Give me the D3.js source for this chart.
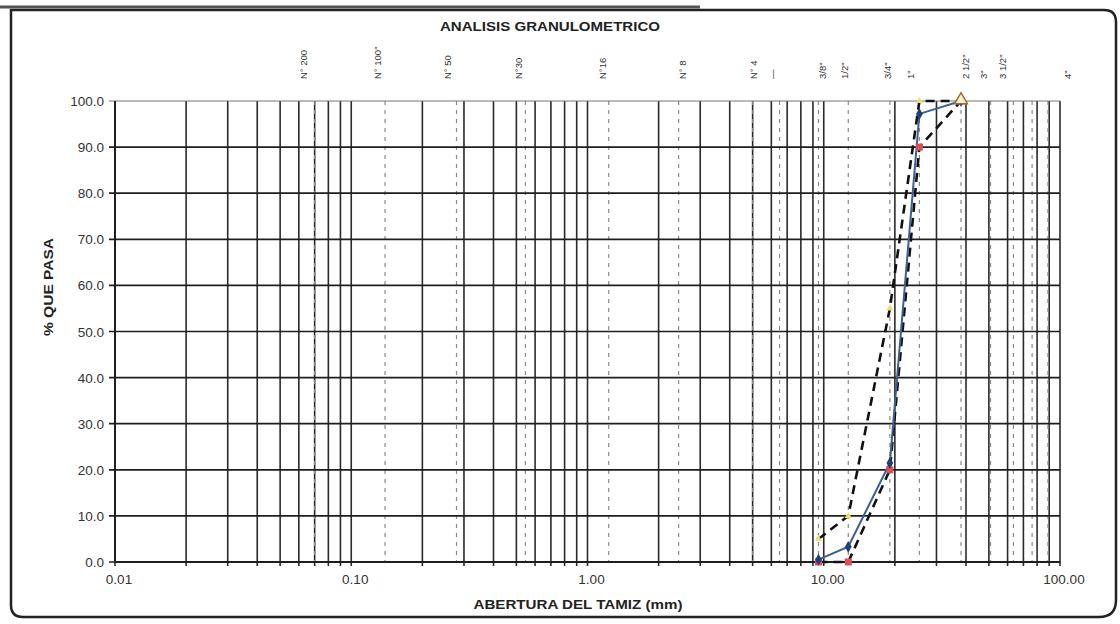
<!DOCTYPE html>
<html>
<head>
<meta charset="utf-8">
<script src="https://cdn.jsdelivr.net/npm/d3@7"></script>
<style>
  html, body { margin: 0; padding: 0; background: #fff; }
  svg { display: block; font-family: "Liberation Sans", Arial, sans-serif; }
</style>
</head>
<body>
<svg id="chart" width="1120" height="624"></svg>
<script>
// Sieve openings (mm) for the gradation curves
const sieveOpenings = [9.5, 12.7, 19.05, 25.4, 38.1];
// % passing: sample, upper limit, lower limit
const sample = [0.5, 3.3, 21.5, 97.2, 100];
const upperLimit = [5, 10, 55, 100, 100];
const lowerLimit = [0, 0, 20, 90, 100];

// Sieve reference lines (mm) drawn dashed
const sieveLines = [0.07, 0.139, 0.279, 0.546, 1.23, 2.43, 5.0, 6.5, 9.5, 12.7, 19.05, 25.4, 38.1, 50.8, 63.5, 76.2, 88.9];
// Sieve names along the top and where they sit (mm)
const sieveNames = ["N° 200", "N° 100\"", "N° 50", "N°30", "N°16", "N° 8", "N° 4", "—", "3/8\"", "1/2\"", "3/4\"", "1\"", "2 1/2\"", "3\"", "3 1/2\"", "4\""];
const sieveNamePos = [0.0626, 0.129, 0.255, 0.51, 1.16, 2.52, 5.05, 6.08, 9.9, 12.2, 18.7, 23.4, 40, 47.6, 57.3, 108];

// Axis ticks
const xTicks = [0.01, 0.1, 1, 10, 100];
const xTickLabels = ["0.01", "0.10", "1.00", "10.00", "100.00"];
const yTicks = [0, 10, 20, 30, 40, 50, 60, 70, 80, 90, 100];

const svg = d3.select("#chart");

const x = d3.scaleLog().domain([0.01, 100]).range([115, 1060]);
const y = d3.scaleLinear().domain([0, 100]).range([562, 101]);

// Frame
svg.append("path")
  .attr("d", "M11,10 L1104,10 Q1116,10 1116,22 L1116,600 Q1116,617 1099,617 L23,617 Q11,617 11,605 Z")
  .attr("fill", "none").attr("stroke", "#222").attr("stroke-width", 2.5);
svg.append("line").attr("x1", 0).attr("x2", 700).attr("y1", 7).attr("y2", 7)
  .attr("stroke", "#555").attr("stroke-width", 3);

const g = svg.append("g");

// Log minor gridlines (solid)
const minor = [];
for (let d = 0.01; d < 99; d *= 10) {
  for (let k = 1; k <= 9; k++) minor.push(+(d * k).toPrecision(3));
}
minor.push(100);
g.selectAll("line.minor").data(minor).join("line")
  .attr("class", "minor")
  .attr("x1", d => x(d)).attr("x2", d => x(d))
  .attr("y1", y(100)).attr("y2", y(0) + 4)
  .attr("stroke", "#2a2a2a").attr("stroke-width", 1.6);

// Sieve lines (dashed)
g.selectAll("line.sieve").data(sieveLines).join("line")
  .attr("class", "sieve")
  .attr("x1", d => x(d)).attr("x2", d => x(d))
  .attr("y1", y(100)).attr("y2", y(0))
  .attr("stroke", "#8a8a8a").attr("stroke-width", 1.2)
  .attr("stroke-dasharray", "4,5");

// Horizontal gridlines
g.selectAll("line.h").data(yTicks).join("line")
  .attr("class", "h")
  .attr("x1", x(0.01) - 6).attr("x2", x(100))
  .attr("y1", d => y(d)).attr("y2", d => y(d))
  .attr("stroke", d => d === 100 ? "#777" : "#1e1e1e")
  .attr("stroke-width", d => d === 100 ? 1.2 : 1.7);

// Left axis line
g.append("line").attr("x1", x(0.01)).attr("x2", x(0.01))
  .attr("y1", y(100)).attr("y2", y(0))
  .attr("stroke", "#1e1e1e").attr("stroke-width", 2);
// Bottom axis line
g.append("line").attr("x1", x(0.01)).attr("x2", x(100))
  .attr("y1", y(0)).attr("y2", y(0))
  .attr("stroke", "#1e1e1e").attr("stroke-width", 2);

// Y tick labels
g.selectAll("text.ytick").data(yTicks).join("text")
  .attr("class", "ytick")
  .attr("x", x(0.01) - 11).attr("y", d => y(d) + 5)
  .attr("text-anchor", "end").attr("font-size", 13.5).attr("fill", "#333")
  .text(d => d.toFixed(1));

// X tick labels
g.selectAll("text.xtick").data(xTicks).join("text")
  .attr("class", "xtick")
  .attr("x", d => x(d) + 4).attr("y", y(0) + 22)
  .attr("text-anchor", "middle").attr("font-size", 13.5).attr("fill", "#333")
  .text((d, i) => xTickLabels[i]);

// Sieve names on top
g.selectAll("text.sname").data(sieveNames).join("text")
  .attr("class", "sname")
  .attr("transform", (d, i) => `translate(${x(sieveNamePos[i]) + 3.5},79) rotate(-90)`)
  .attr("text-anchor", "start").attr("font-size", 9.5).attr("fill", "#333")
  .text(d => d);

// Titles
svg.append("text").attr("x", 550).attr("y", 31).attr("text-anchor", "middle")
  .attr("font-size", 13).attr("font-weight", "bold").attr("fill", "#222")
  .attr("textLength", 220).attr("lengthAdjust", "spacingAndGlyphs")
  .text("ANALISIS GRANULOMETRICO");
svg.append("text").attr("transform", "translate(53,287) rotate(-90)")
  .attr("text-anchor", "middle").attr("font-size", 13).attr("font-weight", "bold").attr("fill", "#222")
  .attr("textLength", 98).attr("lengthAdjust", "spacingAndGlyphs")
  .text("% QUE PASA");
svg.append("text").attr("x", 578).attr("y", 609).attr("text-anchor", "middle")
  .attr("font-size", 13).attr("font-weight", "bold").attr("fill", "#222")
  .attr("textLength", 209).attr("lengthAdjust", "spacingAndGlyphs")
  .text("ABERTURA DEL TAMIZ (mm)");

// Curves
const line = d3.line().x(d => x(d[0])).y(d => y(d[1]));
const pts = vals => sieveOpenings.map((s, i) => [s, vals[i]]);

g.append("path").datum(pts(upperLimit)).attr("d", line)
  .attr("fill", "none").attr("stroke", "#111").attr("stroke-width", 2.6)
  .attr("stroke-dasharray", "9,6");
g.append("path").datum(pts(lowerLimit)).attr("d", line)
  .attr("fill", "none").attr("stroke", "#111").attr("stroke-width", 2.6)
  .attr("stroke-dasharray", "9,6");
g.append("path").datum(pts(sample)).attr("d", line)
  .attr("fill", "none").attr("stroke", "#3d5f93").attr("stroke-width", 2);

// Markers
g.selectAll("path.up").data(pts(upperLimit)).join("path")
  .attr("class", "up")
  .attr("transform", d => `translate(${x(d[0])},${y(d[1])})`)
  .attr("d", d3.symbol(d3.symbolTriangle, 22))
  .attr("fill", "#e8e070");
g.selectAll("rect.low").data(pts(lowerLimit)).join("rect")
  .attr("class", "low")
  .attr("x", d => x(d[0]) - 3.5).attr("y", d => y(d[1]) - 3.5)
  .attr("width", 7).attr("height", 7)
  .attr("fill", "#d9505a");
g.selectAll("path.smp").data(pts(sample)).join("path")
  .attr("class", "smp")
  .attr("transform", d => `translate(${x(d[0])},${y(d[1])})`)
  .attr("d", d3.symbol(d3.symbolDiamond, 40))
  .attr("fill", "#1f3f78");
// Closing point where all curves meet
const last = sieveOpenings.length - 1;
g.append("path")
  .attr("transform", `translate(${x(sieveOpenings[last])},${y(sample[last]) - 1})`)
  .attr("d", d3.symbol(d3.symbolTriangle, 70))
  .attr("fill", "#f4efd8").attr("stroke", "#a0702a").attr("stroke-width", 1.5);
</script>
</body>
</html>
